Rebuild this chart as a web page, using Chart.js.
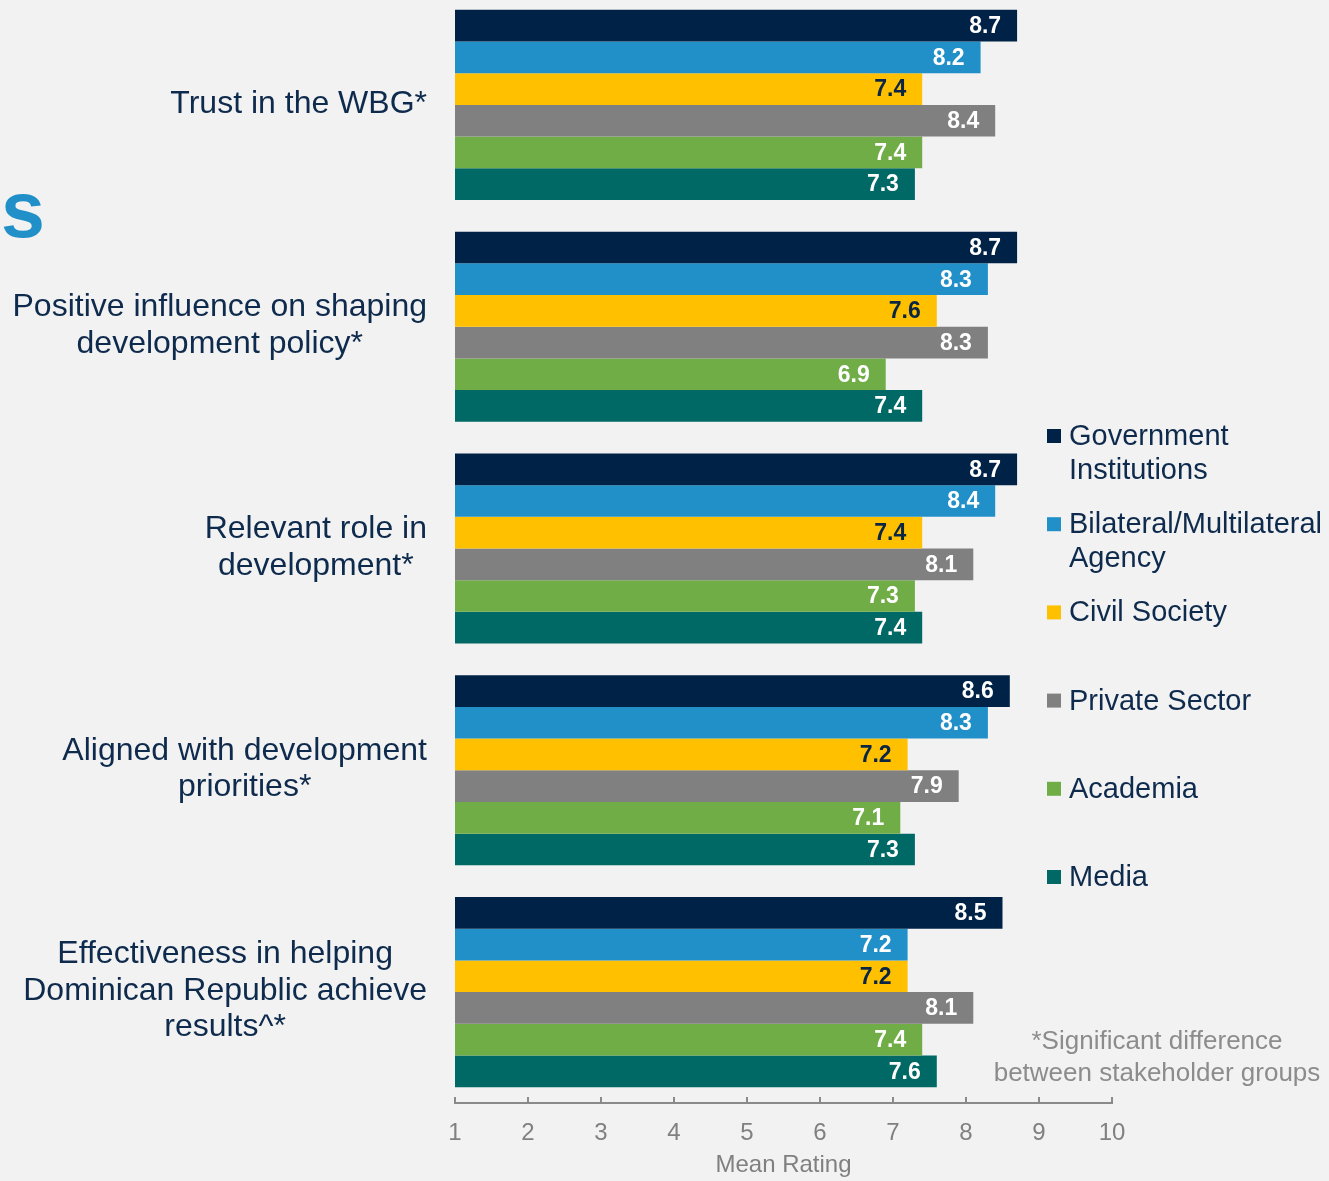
<!DOCTYPE html>
<html>
<head>
<meta charset="utf-8">
<script src="https://cdn.jsdelivr.net/npm/chart.js@4.4.1/dist/chart.umd.min.js"></script>
<style>
html,body{margin:0;padding:0;background:#f2f2f2;width:1329px;height:1181px;overflow:hidden;}
#wrap{position:absolute;left:0;top:-6px;width:1329px;height:1187px;}
canvas{display:block;}
</style>
</head>
<body>
<div id="wrap"><canvas id="c" width="1329" height="1187"></canvas></div>
<script>
// ---------- DATA ----------
const categories = [
  ["Trust in the WBG*"],
  ["Positive influence on shaping", "development policy*"],
  ["Relevant role in", "development*"],
  ["Aligned with development", "priorities*"],
  ["Effectiveness in helping", "Dominican Republic achieve", "results^*"]
];
const seriesNames = ["Government Institutions", "Bilateral/Multilateral Agency", "Civil Society", "Private Sector", "Academia", "Media"];
const legendLabels = [["Government", "Institutions"], ["Bilateral/Multilateral", "Agency"], ["Civil Society"], ["Private Sector"], ["Academia"], ["Media"]];
const government    = [8.7, 8.7, 8.7, 8.6, 8.5];
const bilateral     = [8.2, 8.3, 8.4, 8.3, 7.2];
const civilSociety  = [7.4, 7.6, 7.4, 7.2, 7.2];
const privateSector = [8.4, 8.3, 8.1, 7.9, 8.1];
const academia      = [7.4, 6.9, 7.3, 7.1, 7.4];
const media         = [7.3, 7.4, 7.4, 7.3, 7.6];
const xTickValues   = [1, 2, 3, 4, 5, 6, 7, 8, 9, 10];
const axisTitle = "Mean Rating";
const footnote = ["*Significant difference", "between stakeholder groups"];
const titleFragment = "s";

// ---------- STYLE ----------
const FONT = '"Liberation Sans", Arial, Helvetica, sans-serif';
const colors = ["#002246", "#2190c8", "#ffc000", "#808080", "#70ad47", "#006966"];
const labelColors = ["#ffffff", "#ffffff", "#0b2545", "#ffffff", "#ffffff", "#ffffff"];
const navyText = "#0e2a4c";
const greyText = "#808080";
const OFF = 6; // canvas is shifted up by 6px on page

const seriesValues = [government, bilateral, civilSociety, privateSector, academia, media];

const overlay = {
  id: 'overlay',
  afterDatasetsDraw(chart) {
    const ctx = chart.ctx;
    ctx.save();
    ctx.font = 'bold 23px ' + FONT;
    ctx.textAlign = 'right';
    ctx.textBaseline = 'middle';
    chart.data.datasets.forEach((ds, di) => {
      const meta = chart.getDatasetMeta(di);
      ctx.fillStyle = labelColors[di];
      meta.data.forEach((el, i) => {
        ctx.fillText(ds.data[i].toFixed(1), el.x - 16, el.y + 1);
      });
    });
    ctx.restore();
  },
  afterDraw(chart) {
    const ctx = chart.ctx;
    const xs = chart.scales.x, ys = chart.scales.y;
    ctx.save();
    // x tick marks pointing up into the plot
    ctx.strokeStyle = '#8a8a8a';
    ctx.lineWidth = 2;
    xTickValues.forEach(v => {
      const px = Math.round(xs.getPixelForValue(v));
      ctx.beginPath();
      ctx.moveTo(px, xs.top - 6);
      ctx.lineTo(px, xs.top + 1);
      ctx.stroke();
    });
    // category labels: lines centered, block right-aligned
    ctx.font = '32px ' + FONT;
    ctx.fillStyle = navyText;
    ctx.textAlign = 'center';
    ctx.textBaseline = 'middle';
    const lh = 36.5;
    categories.forEach((lines, i) => {
      const yc = ys.getPixelForTick(i);
      const w = Math.max(...lines.map(l => ctx.measureText(l).width));
      const cx = 427 - w / 2;
      lines.forEach((l, j) => {
        ctx.fillText(l, cx, yc - 1 + (j - (lines.length - 1) / 2) * lh);
      });
    });
    // legend
    ctx.font = '29px ' + FONT;
    ctx.textAlign = 'left';
    legendLabels.forEach((lines, i) => {
      const y = 436 + OFF + i * 88.2;
      ctx.fillStyle = colors[i];
      ctx.fillRect(1047, y - 7, 14, 14);
      ctx.fillStyle = navyText;
      lines.forEach((l, j) => ctx.fillText(l, 1069, y + 1 + j * 34));
    });
    // footnote
    ctx.font = '26px ' + FONT;
    ctx.fillStyle = '#8c8c8c';
    ctx.textAlign = 'center';
    footnote.forEach((l, j) => ctx.fillText(l, 1157, 1042 + OFF + j * 32));
    // title fragment at the left edge
    ctx.font = 'bold 79px ' + FONT;
    ctx.fillStyle = '#2190c8';
    ctx.textAlign = 'right';
    ctx.textBaseline = 'alphabetic';
    ctx.fillText(titleFragment, 45, 237 + OFF);
    ctx.restore();
  }
};

new Chart(document.getElementById('c'), {
  type: 'bar',
  data: {
    labels: categories,
    datasets: seriesNames.map((n, i) => ({
      label: n,
      data: seriesValues[i],
      backgroundColor: colors[i],
      borderWidth: 0,
      barPercentage: 1,
      categoryPercentage: 6 / 7
    }))
  },
  options: {
    indexAxis: 'y',
    responsive: false,
    animation: false,
    devicePixelRatio: 1,
    layout: { padding: { left: 0, right: 217, top: 0, bottom: 0 } },
    plugins: { legend: { display: false }, tooltip: { enabled: false } },
    scales: {
      x: {
        type: 'linear',
        min: 1, max: 10,
        afterBuildTicks(s) { s.ticks = xTickValues.map(v => ({ value: v })); },
        ticks: { color: greyText, font: { size: 24, family: FONT }, padding: 16, maxRotation: 0, autoSkip: false },
        grid: { display: false, drawTicks: false },
        border: { display: true, color: '#8a8a8a', width: 2 },
        title: { display: true, text: axisTitle, color: greyText, font: { size: 24, family: FONT }, padding: { top: 0, bottom: 1 } },
        afterFit(s) { s.height = 78; }
      },
      y: {
        ticks: { display: false },
        grid: { display: false, drawTicks: false },
        border: { display: false },
        afterFit(s) { s.width = 455; }
      }
    }
  },
  plugins: [overlay]
});
</script>
</body>
</html>
